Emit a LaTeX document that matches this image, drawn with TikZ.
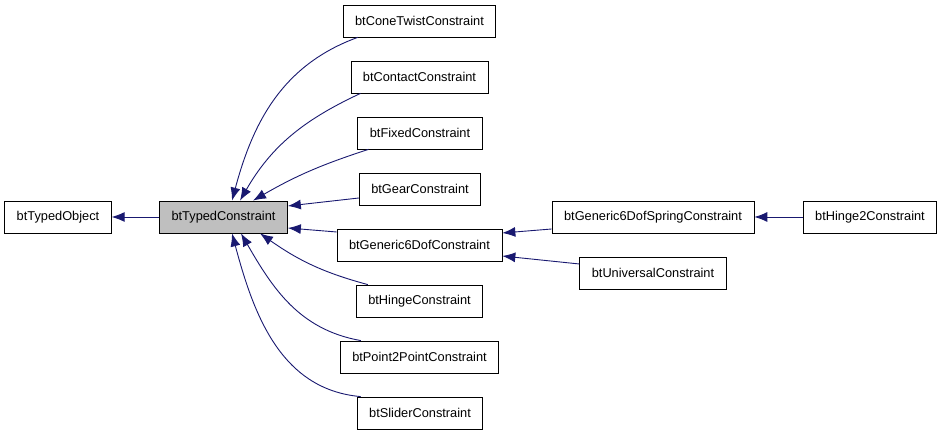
\documentclass[tikz,border=0pt]{standalone}
\usepackage{fontspec}
\setmainfont{Liberation Sans}
\usepackage{tikz}
\usetikzlibrary{arrows.meta}
\definecolor{edgeblue}{RGB}{25,25,112}
\tikzset{cls/.style={draw,rectangle,inner xsep=12pt,minimum height=32pt,line width=0.8pt,
                     font=\fontsize{12.8}{15}\selectfont},
         inh/.style={draw=edgeblue,line width=0.9pt,-{Latex[length=13pt,width=10pt]}}}

\begin{document}
\begin{tikzpicture}[x=1pt,y=1pt]
                      \useasboundingbox (0,0) rectangle (944,435);
                      \node[cls](obj)at(58,218){btTypedObject};
                      \node[cls,fill=black!25](tc)at(223.5,218){btTypedConstraint};
                      \node[cls](cone)at(419.5,414){btConeTwistConstraint};
                      \node[cls](contact)at(419.5,358){btContactConstraint};
                      \node[cls](fixed)at(420,302){btFixedConstraint};
                      \node[cls](gear)at(420,246){btGearConstraint};
                      \node[cls](gsix)at(419.5,190){btGeneric6DofConstraint};
                      \node[cls](hinge)at(419.5,134){btHingeConstraint};
                      \node[cls](ptp)at(419.5,78){btPoint2PointConstraint};
                      \node[cls](slider)at(420,22){btSliderConstraint};
                      \node[cls](spring)at(653,218){btGeneric6DofSpringConstraint};
                      \node[cls](univ)at(653,162){btUniversalConstraint};
                      \node[cls](hingetwo)at(870,218){btHinge2Constraint};
                      % base classes
                      \draw[inh](tc)--(obj);
                      \draw[inh]([xshift=15pt]cone.south west) to[out=200,in=75] ([xshift=8.5pt]tc.north);
                      \draw[inh]([xshift=10pt]contact.south west) to[out=205,in=60] ([xshift=16.5pt]tc.north);
                      \draw[inh]([xshift=11pt]fixed.south west) to[out=198,in=30] ([xshift=29.5pt]tc.north);
                      \draw[inh]([yshift=-9pt]gear.west)--([yshift=11pt]tc.east);
                      \draw[inh]([yshift=13pt]gsix.west)--([yshift=-11pt]tc.east);
                      \draw[inh]([xshift=12pt]hinge.north west) to[out=165,in=-35] ([xshift=36.5pt]tc.south);
                      \draw[inh]([xshift=21pt]ptp.north west) to[out=170,in=-60] ([xshift=17.5pt]tc.south);
                      \draw[inh]([xshift=4pt]slider.north west) to[out=175,in=-75] ([xshift=8.5pt]tc.south);
                      % generic 6dof branch
                      \draw[inh]([yshift=-12pt]spring.west)--([yshift=12pt]gsix.east);
                      \draw[inh]([yshift=9pt]univ.west)--([yshift=-11pt]gsix.east);
                      \draw[inh](hingetwo)--(spring);
                  \end{tikzpicture}
\end{document}
